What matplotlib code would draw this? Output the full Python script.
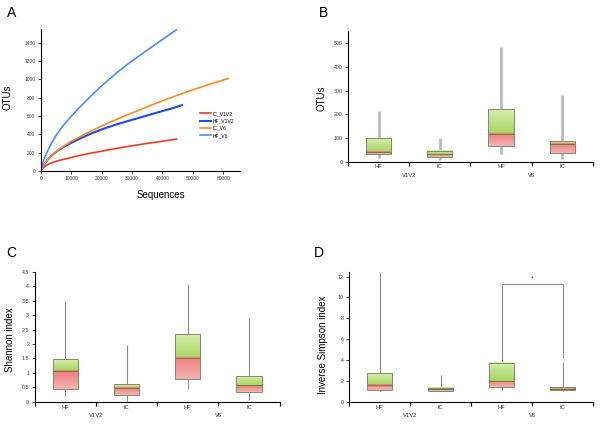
import numpy as np
import matplotlib
matplotlib.use("Agg")
import matplotlib.pyplot as plt
from matplotlib.colors import to_rgb

plt.rcParams['font.family'] = ['Liberation Sans', 'DejaVu Sans']

# --- panel A: rarefaction curves ---
seq_ic_v1v2 = [0, 300, 700, 1000, 1500, 2000, 3000, 4000, 5000, 6000, 7500, 10000, 12500, 15000,
               17500, 20000, 22500, 25000, 27500, 30000, 32500, 35000, 37500, 40000, 42500, 44600]
otu_ic_v1v2 = [0, 16, 31, 40, 53, 64, 80, 93, 104, 114, 126, 146, 166, 184,
               200, 215, 231, 246, 260, 274, 287, 300, 312, 324, 336, 346]
seq_hf_v1v2 = [0, 300, 700, 1000, 1500, 2000, 3000, 4000, 5000, 6000, 7500, 10000, 12500, 15000,
               17500, 20000, 22500, 25000, 27500, 30000, 32500, 35000, 37500, 40000, 42500, 44600, 46400]
otu_hf_v1v2 = [0, 24, 50, 66, 90, 111, 148, 179, 206, 230, 262, 305, 347, 385,
               420, 452, 481, 508, 533, 557, 581, 605, 629, 653, 676, 697, 717]
seq_ic_v6 = [0, 300, 700, 1000, 1500, 2000, 3000, 4000, 5000, 6000, 7500, 10000, 12500, 15000,
             17500, 20000, 22500, 25000, 27500, 30000, 35000, 40000, 45000, 50000, 55000, 61600]
otu_ic_v6 = [0, 24, 50, 66, 90, 111, 150, 182, 210, 235, 269, 322, 367, 410,
             451, 490, 527, 563, 598, 632, 700, 765, 826, 885, 940, 1008]
seq_hf_v6 = [0, 300, 700, 1000, 1500, 2000, 3000, 4000, 5000, 6000, 7500, 10000, 12500, 15000,
             17500, 20000, 22500, 25000, 27500, 30000, 32500, 35000, 37500, 40000, 42500, 44600]
otu_hf_v6 = [0, 48, 93, 122, 163, 200, 268, 330, 385, 434, 500, 595, 684, 769,
             850, 927, 1000, 1071, 1137, 1200, 1259, 1318, 1376, 1433, 1492, 1540]

# --- box panels: order HF V1V2, IC V1V2, HF V6, IC V6 ---
categories = ['HF', 'IC', 'HF', 'IC']
regions = ['V1V2', 'V6']

otu_lo = [15, 8, 30, 12]
otu_q1 = [33, 20, 66, 35]
otu_med = [42, 30, 118, 76]
otu_q3 = [100, 46, 222, 87]
otu_hi = [215, 98, 485, 281]

sh_lo = [0.21, 0.04, 0.45, 0.07]
sh_q1 = [0.45, 0.24, 0.79, 0.35]
sh_med = [1.08, 0.49, 1.53, 0.59]
sh_q3 = [1.47, 0.62, 2.34, 0.88]
sh_hi = [3.48, 1.95, 4.07, 2.89]

is_lo = [0.98, 0.98, 1.1, 1.0]
is_q1 = [1.13, 1.06, 1.44, 1.08]
is_med = [1.62, 1.18, 1.95, 1.22]
is_q3 = [2.72, 1.29, 3.68, 1.37]
is_hi = [12.35, 2.53, 10.43, 3.8]


def gradient(ax, x0, x1, y0, y1, c_top, c_bot):
    top = np.array(to_rgb(c_top))
    bot = np.array(to_rgb(c_bot))
    t = np.linspace(0, 1, 64)[:, None]
    img = (top * (1 - t) + bot * t)[:, None, :]
    ax.imshow(img, extent=(x0, x1, y0, y1), aspect='auto', origin='upper',
              interpolation='bilinear', zorder=2)


def draw_boxes(ax, lo, q1, med, q3, hi, wcol, wlw):
    w = 0.41
    for i in range(len(lo)):
        x = i + 0.5
        ax.plot([x, x], [lo[i], hi[i]], color=wcol, lw=wlw, zorder=1,
                solid_capstyle='butt')
        gradient(ax, x - w / 2, x + w / 2, med[i], q3[i], '#d8eeae', '#a6d460')
        gradient(ax, x - w / 2, x + w / 2, q1[i], med[i], '#ee7c7c', '#f6b3b3')
        ax.add_patch(plt.Rectangle((x - w / 2, q1[i]), w, q3[i] - q1[i], fill=False,
                                   ec='#7f8a70', lw=0.7, zorder=3))
        ax.plot([x - w / 2, x + w / 2], [med[i], med[i]], color='#6f7d45', lw=0.7, zorder=3)
    ax.set_xlim(0, 4)
    ax.set_xticks([0, 1, 2, 3, 4])
    ax.set_xticklabels([])
    ax.tick_params(axis='x', length=3, width=0.8)
    ax.tick_params(axis='y', length=2, width=0.6, labelsize=3.8, colors='#333333', pad=2)
    for s in ['top', 'right']:
        ax.spines[s].set_visible(False)


def cat_labels(ax, off1, off2):
    for i, c in enumerate(categories):
        ax.annotate(c, (i + 0.5, 0), xycoords=('data', 'axes fraction'),
                    xytext=(0, -off1), textcoords='offset points',
                    ha='center', va='center', fontsize=4.2, color='#333333')
    for j, r in enumerate(regions):
        ax.annotate(r, (2 * j + 1, 0), xycoords=('data', 'axes fraction'),
                    xytext=(0, -off2), textcoords='offset points',
                    ha='center', va='center', fontsize=4.2, color='#333333')


fig = plt.figure(figsize=(6, 4.24), dpi=100)

# Panel A
axA = fig.add_axes([0.068, 0.597, 0.332, 0.335])
axA.plot(seq_ic_v1v2, otu_ic_v1v2, color='#f23a22', lw=1.2, label='IC_V1V2')
axA.plot(seq_hf_v1v2, otu_hf_v1v2, color='#2448f0', lw=1.5, label='HF_V1V2')
axA.plot(seq_ic_v6, otu_ic_v6, color='#ff8a1c', lw=1.2, label='IC_V6')
axA.plot(seq_hf_v6, otu_hf_v6, color='#4b8df5', lw=1.2, label='HF_V6')
axA.set_xlim(0, 65500)
axA.set_ylim(0, 1550)
axA.set_xticks(np.arange(0, 60001, 10000))
axA.set_yticks(np.arange(0, 1401, 200))
axA.tick_params(length=2, width=0.6, labelsize=3.5, colors='#333333', pad=2)
for s in ['top', 'right']:
    axA.spines[s].set_visible(False)
axA.set_xlabel('Sequences', fontsize=7)
axA.set_ylabel('OTUs', fontsize=7)
axA.xaxis.set_label_coords(0.603, -0.134)
axA.yaxis.set_label_coords(-0.141, 0.52)
leg = axA.legend(loc='upper left', bbox_to_anchor=(0.80, 0.42), frameon=False,
                 fontsize=3.6, handlelength=2.2, handletextpad=0.3, labelspacing=0.45,
                 borderaxespad=0, borderpad=0)

# Panel B
axB = fig.add_axes([0.58, 0.619, 0.408, 0.307])
draw_boxes(axB, otu_lo, otu_q1, otu_med, otu_q3, otu_hi, '#b4b4b4', 1.8)
axB.set_ylim(0, 550)
axB.set_yticks(np.arange(0, 501, 100))
axB.set_ylabel('OTUs', fontsize=7)
axB.yaxis.set_label_coords(-0.086, 0.49)
cat_labels(axB, 3.8, 10.3)

# Panel C
axC = fig.add_axes([0.058, 0.0526, 0.408, 0.306])
draw_boxes(axC, sh_lo, sh_q1, sh_med, sh_q3, sh_hi, '#8a8a8a', 0.8)
axC.set_ylim(0, 4.5)
axC.set_yticks(np.arange(0, 4.51, 0.5))
axC.set_yticklabels(['%g' % v for v in np.arange(0, 4.51, 0.5)])
axC.set_ylabel('Shannon index', fontsize=7)
axC.yaxis.set_label_coords(-0.082, 0.476)
cat_labels(axC, 4.5, 9.6)

# Panel D
axD = fig.add_axes([0.582, 0.0526, 0.407, 0.306])
draw_boxes(axD, is_lo, is_q1, is_med, is_q3, is_hi, '#8a8a8a', 0.8)
axD.set_ylim(0, 12.45)
axD.set_yticks(np.arange(0, 12.1, 2))
axD.set_ylabel('Inverse Simpson index', fontsize=7)
axD.yaxis.set_label_coords(-0.086, 0.437)
cat_labels(axD, 4.5, 9.6)
bracket_y = 11.26
axD.plot([2.5, 2.5, 3.5, 3.5], [is_hi[2], bracket_y, bracket_y, 4.3],
         color='#8a8a8a', lw=0.8, zorder=1)
axD.text(3.0, 11.8, '*', ha='center', va='center', fontsize=5, color='#333333')

for lab, x, y in [('A', 0.019, 0.969), ('B', 0.54, 0.969),
                  ('C', 0.019, 0.403), ('D', 0.532, 0.403)]:
    fig.text(x, y, lab, fontsize=10, ha='center', va='center')

fig.savefig('out.png', dpi=100)
